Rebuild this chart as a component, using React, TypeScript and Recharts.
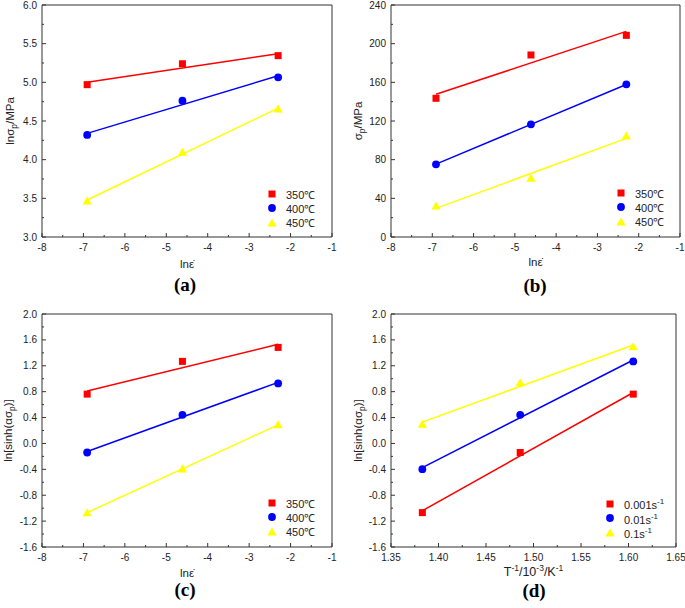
import React from "react";
import { Legend, ReferenceLine, Scatter, ScatterChart, XAxis, YAxis } from "recharts";

// strain rates 0.001, 0.01, 0.1 s-1 -> ln values; temperatures 350/400/450 C -> 1000/T
const lnRate = [-6.91, -4.61, -2.3];
const lnRateEnds = [-6.91, -2.3];
const invTemp = [1.383, 1.486, 1.605];
const invTempEnds = [1.383, 1.605];

const tempNames = ["350℃", "400℃", "450℃"];
const rateNames = ["0.001s-1", "0.01s-1", "0.1s-1"];

// (a) ln(peak stress)
const lnPeak350 = [4.97, 5.24, 5.345];
const lnPeak400 = [4.32, 4.763, 5.065];
const lnPeak450 = [3.465, 4.095, 4.655];
const lnPeakFit350 = [5.0, 5.37];
const lnPeakFit400 = [4.34, 5.085];
const lnPeakFit450 = [3.478, 4.667];

// (b) peak stress
const peak350 = [143.5, 188.3, 208.6];
const peak400 = [75.2, 116.6, 157.9];
const peak450 = [32.1, 60.8, 104.5];
const peakFit350 = [147.6, 212.7];
const peakFit400 = [75.4, 157.8];
const peakFit450 = [29.6, 102.0];

// (c) ln[sinh(a*sigma)] vs ln rate
const sinh350 = [0.762, 1.268, 1.484];
const sinh400 = [-0.14, 0.442, 0.928];
const sinh450 = [-1.069, -0.393, 0.287];
const sinhFit350 = [0.81, 1.532];
const sinhFit400 = [-0.124, 0.944];
const sinhFit450 = [-1.069, 0.287];

// (d) ln[sinh(a*sigma)] vs 1/T
const sinhRate001 = [-1.069, -0.14, 0.762];
const sinhRate01 = [-0.398, 0.442, 1.268];
const sinhRate1 = [0.298, 0.937, 1.494];
const sinhRateFit001 = [-1.04, 0.787];
const sinhRateFit01 = [-0.374, 1.289];
const sinhRateFit1 = [0.329, 1.52];

const lnRateTicks = [-8, -7, -6, -5, -4, -3, -2, -1];
const lnPeakTicks = [3.0, 3.5, 4.0, 4.5, 5.0, 5.5, 6.0];
const peakTicks = [0, 40, 80, 120, 160, 200, 240];
const sinhTicks = [-1.6, -1.2, -0.8, -0.4, 0, 0.4, 0.8, 1.2, 1.6, 2.0];
const invTempTicks = [1.35, 1.4, 1.45, 1.5, 1.55, 1.6, 1.65];

const RED = "#ff0000";
const BLUE = "#0000ff";
const YELLOW = "#ffff00";
const AXIS = "#333";
const SANS = '"Liberation Sans", Arial, sans-serif';

type Kind = "square" | "circle" | "triangle";
type Pt = { x: number; y: number };
type Series = { name: string; kind: Kind; color: string; points: Pt[]; fit: Pt[] };

const zip = (xs: number[], ys: number[]): Pt[] => xs.map((x, i) => ({ x, y: ys[i] }));

const withMinor = (majors: number[]) => {
  const out: number[] = [];
  majors.forEach((v, i) => {
    out.push(v);
    if (i < majors.length - 1) out.push((v + majors[i + 1]) / 2);
  });
  return out;
};

const kinds: Kind[] = ["square", "circle", "triangle"];
const colors = [RED, BLUE, YELLOW];

const makeSeries = (names: string[], xs: number[], ends: number[], vals: number[][], fits: number[][]): Series[] =>
  names.map((name, i) => ({
    name,
    kind: kinds[i],
    color: colors[i],
    points: zip(xs, vals[i]),
    fit: zip(ends, fits[i]),
  }));

const seriesA = makeSeries(tempNames, lnRate, lnRateEnds, [lnPeak350, lnPeak400, lnPeak450], [lnPeakFit350, lnPeakFit400, lnPeakFit450]);
const seriesB = makeSeries(tempNames, lnRate, lnRateEnds, [peak350, peak400, peak450], [peakFit350, peakFit400, peakFit450]);
const seriesC = makeSeries(tempNames, lnRate, lnRateEnds, [sinh350, sinh400, sinh450], [sinhFit350, sinhFit400, sinhFit450]);
const seriesD = makeSeries(rateNames, invTemp, invTempEnds, [sinhRate001, sinhRate01, sinhRate1], [sinhRateFit001, sinhRateFit01, sinhRateFit1]);

function Marker({ kind, cx, cy, color }: { kind: Kind; cx: number; cy: number; color: string }) {
  if (kind === "square") return <rect x={cx - 3.5} y={cy - 3.5} width={7} height={7} fill={color} />;
  if (kind === "circle") return <circle cx={cx} cy={cy} r={3.9} fill={color} />;
  return <polygon points={`${cx},${cy - 4.5} ${cx + 4.6},${cy + 3.5} ${cx - 4.6},${cy + 3.5}`} fill={color} />;
}

function LegendText({ value }: { value: string }) {
  if (value.endsWith("s-1")) {
    return (
      <span>
        {value.slice(0, -2)}
        <sup style={{ fontSize: 8 }}>-1</sup>
      </span>
    );
  }
  return <span>{value}</span>;
}

type PanelProps = {
  width: number;
  height: number;
  margin: { top: number; right: number; bottom: number; left: number };
  yWidth: number;
  xDomain: [number, number];
  xTicks: number[];
  xDigits: number;
  yDomain: [number, number];
  yTicks: number[];
  yDigits: number;
  series: Series[];
  xTitle: React.ReactNode;
  xTitleDy: number;
  yTitle: React.ReactNode;
  yTitleX: number;
  legendPos: { left: number; top: number };
};

function Panel(p: PanelProps) {
  const xAll = withMinor(p.xTicks);
  const yAll = withMinor(p.yTicks);

  const XTick = (props: any) => {
    const { x, y, payload } = props;
    const major = p.xTicks.includes(payload.value);
    return (
      <g>
        <line x1={x} y1={y} x2={x} y2={y - (major ? 4 : 2)} stroke={AXIS} />
        {major && (
          <text x={x} y={y + 13.5} textAnchor="middle" fontSize={10} fontFamily={SANS} fill="#222">
            {payload.value.toFixed(p.xDigits)}
          </text>
        )}
      </g>
    );
  };

  const YTick = (props: any) => {
    const { x, y, payload } = props;
    const major = p.yTicks.includes(payload.value);
    return (
      <g>
        <line x1={x} y1={y} x2={x + (major ? 4 : 2)} y2={y} stroke={AXIS} />
        {major && (
          <text x={x - 5} y={y + 3.6} textAnchor="end" fontSize={10} fontFamily={SANS} fill="#222">
            {payload.value.toFixed(p.yDigits)}
          </text>
        )}
      </g>
    );
  };

  const xTitle = (props: any) => {
    const vb = props.viewBox;
    return (
      <text x={vb.x + vb.width / 2} y={vb.y + p.xTitleDy} textAnchor="middle" fontSize={11.5} fontFamily={SANS} fill="#222">
        {p.xTitle}
      </text>
    );
  };

  const yTitle = (props: any) => {
    const vb = props.viewBox;
    const cx = p.yTitleX;
    const cy = vb.y + vb.height / 2;
    return (
      <text x={cx} y={cy} transform={`rotate(-90 ${cx} ${cy})`} textAnchor="middle" fontSize={11.5} fontFamily={SANS} fill="#222">
        {p.yTitle}
      </text>
    );
  };

  const legendContent = () => (
    <div style={{ fontFamily: SANS, fontSize: 11, color: "#222" }}>
      {p.series.map((s) => (
        <div key={s.name} style={{ display: "flex", alignItems: "center", height: 14.3 }}>
          <svg width={20} height={14}>
            <Marker kind={s.kind} cx={6} cy={7} color={s.color} />
          </svg>
          <LegendText value={s.name} />
        </div>
      ))}
    </div>
  );

  return (
    <ScatterChart width={p.width} height={p.height} margin={p.margin}>
      <XAxis
        type="number"
        dataKey="x"
        domain={p.xDomain}
        ticks={xAll}
        interval={0}
        tickSize={0}
        tickMargin={0}
        tick={XTick}
        height={45}
        stroke={AXIS}
        label={xTitle}
        allowDataOverflow
      />
      <YAxis
        type="number"
        dataKey="y"
        domain={p.yDomain}
        ticks={yAll}
        interval={0}
        tickSize={0}
        tickMargin={0}
        tick={YTick}
        width={p.yWidth}
        stroke={AXIS}
        label={yTitle}
        allowDataOverflow
      />
      <ReferenceLine y={p.yDomain[1]} stroke={AXIS} />
      <ReferenceLine x={p.xDomain[1]} stroke={AXIS} />
      {p.series.map((s) => (
        <Scatter
          key={s.name + "-fit"}
          name={s.name + "-fit"}
          data={s.fit}
          line={{ stroke: s.color, strokeWidth: 1.5 }}
          shape={() => <g />}
          legendType="none"
          isAnimationActive={false}
        />
      ))}
      {p.series.map((s) => (
        <Scatter
          key={s.name}
          name={s.name}
          data={s.points}
          fill={s.color}
          shape={(props: any) => <Marker kind={s.kind} cx={props.cx} cy={props.cy} color={s.color} />}
          isAnimationActive={false}
        />
      ))}
      <Legend
        layout="vertical"
        align="center"
        verticalAlign="middle"
        content={legendContent}
        wrapperStyle={{ left: p.legendPos.left, top: p.legendPos.top, width: 80 }}
      />
    </ScatterChart>
  );
}

const sub = (t: string) => (
  <tspan dy={3} fontSize={8.5}>
    {t}
  </tspan>
);

const lnRateTitle = "lnε̇";

const captionStyle: React.CSSProperties = {
  position: "absolute",
  width: 60,
  height: 19,
  lineHeight: "19px",
  textAlign: "center",
  fontFamily: '"Liberation Serif", "Times New Roman", serif',
  fontWeight: "bold",
  fontSize: 19,
};

export default function App() {
  return (
    <div style={{ position: "absolute", left: 0, top: 0, width: 685, height: 608, background: "#fff" }}>
      <div style={{ position: "absolute", left: 0, top: 0 }}>
        <Panel
          width={340}
          height={300}
          margin={{ top: 5, right: 8, bottom: 18, left: 0 }}
          yWidth={42}
          xDomain={[-8, -1]}
          xTicks={lnRateTicks}
          xDigits={0}
          yDomain={[3, 6]}
          yTicks={lnPeakTicks}
          yDigits={1}
          series={seriesA}
          xTitle={lnRateTitle}
          xTitleDy={30.5}
          yTitle={
            <>
              <tspan>lnσ</tspan>
              {sub("p")}
              <tspan dy={-3}>/MPa</tspan>
            </>
          }
          yTitleX={14}
          legendPos={{ left: 266, top: 187 }}
        />
      </div>
      <div style={{ position: "absolute", left: 340, top: 0 }}>
        <Panel
          width={345}
          height={300}
          margin={{ top: 5, right: 5, bottom: 18, left: 0 }}
          yWidth={51}
          xDomain={[-8, -1]}
          xTicks={lnRateTicks}
          xDigits={0}
          yDomain={[0, 240]}
          yTicks={peakTicks}
          yDigits={0}
          series={seriesB}
          xTitle={lnRateTitle}
          xTitleDy={28.5}
          yTitle={
            <>
              <tspan>σ</tspan>
              {sub("p")}
              <tspan dy={-3}>/MPa</tspan>
            </>
          }
          yTitleX={22}
          legendPos={{ left: 275, top: 186 }}
        />
      </div>
      <div style={{ position: "absolute", left: 0, top: 300 }}>
        <Panel
          width={340}
          height={308}
          margin={{ top: 14, right: 8, bottom: 16, left: 0 }}
          yWidth={42}
          xDomain={[-8, -1]}
          xTicks={lnRateTicks}
          xDigits={0}
          yDomain={[-1.6, 2.0]}
          yTicks={sinhTicks}
          yDigits={1}
          series={seriesC}
          xTitle={lnRateTitle}
          xTitleDy={30}
          yTitle={
            <>
              <tspan>ln[sinh(ασ</tspan>
              {sub("p")}
              <tspan dy={-3}>)]</tspan>
            </>
          }
          yTitleX={12}
          legendPos={{ left: 266, top: 196 }}
        />
      </div>
      <div style={{ position: "absolute", left: 340, top: 300 }}>
        <Panel
          width={345}
          height={308}
          margin={{ top: 14, right: 9, bottom: 16, left: 0 }}
          yWidth={51}
          xDomain={[1.35, 1.65]}
          xTicks={invTempTicks}
          xDigits={2}
          yDomain={[-1.6, 2.0]}
          yTicks={sinhTicks}
          yDigits={1}
          series={seriesD}
          xTitle={
            <tspan fontSize={12.5}>
              <tspan>T</tspan>
              <tspan dy={-4.5} fontSize={8.5}>-1</tspan>
              <tspan dy={4.5}>/10</tspan>
              <tspan dy={-4.5} fontSize={8.5}>-3</tspan>
              <tspan dy={4.5}>/K</tspan>
              <tspan dy={-4.5} fontSize={8.5}>-1</tspan>
            </tspan>
          }
          xTitleDy={28.5}
          yTitle={
            <>
              <tspan>ln[sinh(ασ</tspan>
              {sub("p")}
              <tspan dy={-3}>)]</tspan>
            </>
          }
          yTitleX={22}
          legendPos={{ left: 264, top: 197 }}
        />
      </div>
      <div style={{ ...captionStyle, left: 155, top: 275 }}>(a)</div>
      <div style={{ ...captionStyle, left: 505, top: 276 }}>(b)</div>
      <div style={{ ...captionStyle, left: 155, top: 580 }}>(c)</div>
      <div style={{ ...captionStyle, left: 504, top: 581 }}>(d)</div>
    </div>
  );
}
